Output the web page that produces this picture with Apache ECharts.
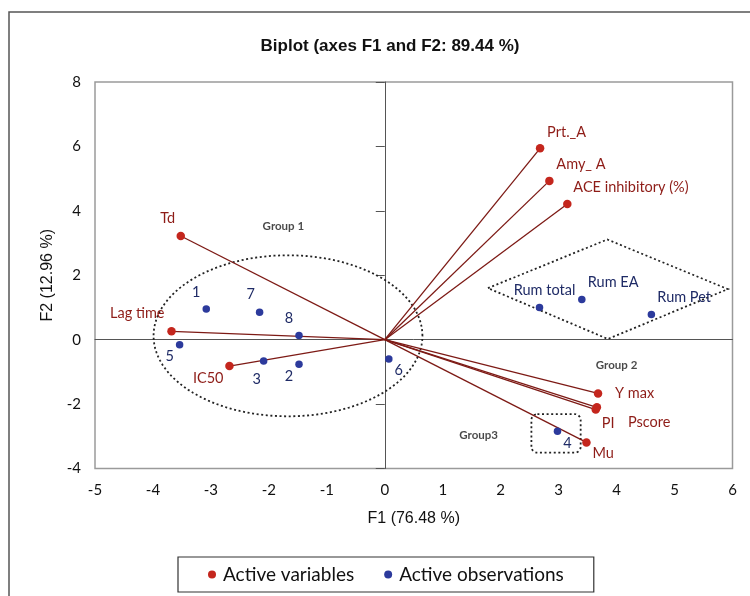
<!DOCTYPE html>
<html><head><meta charset="utf-8">
<script src="https://cdn.jsdelivr.net/npm/echarts@6/dist/echarts.min.js"></script>
<style>html,body{margin:0;padding:0;background:#fff}#c{width:750px;height:596px}</style>
</head><body><div id="c"></div>
<script>
// ---- data ----
const variableNames = ['Prt._A', 'Amy_ A', 'ACE inhibitory (%)', 'Td', 'Lag time', 'IC50', 'Y max', 'PI', 'Pscore', 'Mu'];
const variableF1 = [2.68, 2.84, 3.15, -3.52, -3.68, -2.68, 3.68, 3.64, 3.66, 3.48];
const variableF2 = [5.94, 4.93, 4.21, 3.22, 0.26, -0.82, -1.67, -2.17, -2.10, -3.19];

const observationNames = ['1', '2', '3', '4', '5', '6', '7', '8', 'Rum total', 'Rum EA', 'Rum Pet'];
const observationF1 = [-3.08, -1.48, -2.09, 2.98, -3.54, 0.07, -2.16, -1.48, 2.67, 3.40, 4.60];
const observationF2 = [0.95, -0.76, -0.66, -2.84, -0.16, -0.60, 0.85, 0.13, 1.00, 1.25, 0.78];

const xTickValues = [-5, -4, -3, -2, -1, 0, 1, 2, 3, 4, 5, 6];
const yTickValues = [-4, -2, 0, 2, 4, 6, 8];

const groupNames = ['Group 1', 'Group 2', 'Group3'];
const groupLabelF1 = [-1.75, 4.0, 1.62];
const groupLabelF2 = [3.51, -0.80, -2.96];

// group outlines (in axis units)
const group1Ellipse = [-1.67, 0.12, 2.32, 2.5];       // centre F1, centre F2, radius F1, radius F2
const group2DiamondF1 = [1.78, 3.84, 5.92, 3.85];
const group2DiamondF2 = [1.60, 3.11, 1.57, 0.02];
const group3BoxF1 = [2.53, 3.38];
const group3BoxF2 = [-2.31, -3.51];

// ---- label placement (style) ----
const varLabelPos = {
  'Prt._A': ['left', 7, -16], 'Amy_ A': ['left', 7, -17], 'ACE inhibitory (%)': ['left', 6, -17],
  'Td': ['center', -13, -18], 'Lag time': ['right', -7, -18], 'IC50': ['right', -6, 12],
  'Y max': ['left', 17, 0], 'PI': ['left', 6, 14], 'Pscore': ['left', 31, 15], 'Mu': ['left', 6, 11]
};
const obsLabelPos = {
  '1': ['center', -10, -17], '2': ['center', -10, 12], '3': ['center', -7, 18], '4': ['center', 10, 12],
  '5': ['center', -10, 12], '6': ['center', 10, 11], '7': ['center', -9, -18], '8': ['center', -10, -17],
  'Rum total': ['center', 5, -17], 'Rum EA': ['left', 6, -17], 'Rum Pet': ['left', 6, -17]
};

const RED = '#c4261d', BLUE = '#2c3a9c', LINE = '#7d1a15';
const VARTXT = '#8e1c17', OBSTXT = '#1f2b66';
const LABELFONT = 'Lato, "Open Sans", sans-serif';

function pointLabel(pos, color) {
  return {
    show: true, position: 'inside', formatter: '{b}', align: pos[0], verticalAlign: 'middle',
    offset: [pos[1], pos[2]], color: color, fontSize: 14.5, fontFamily: LABELFONT
  };
}

const varData = variableNames.map((n, i) => ({
  name: n, value: [variableF1[i], variableF2[i]], label: pointLabel(varLabelPos[n], VARTXT)
}));
const obsData = observationNames.map((n, i) => ({
  name: n, value: [observationF1[i], observationF2[i]], label: pointLabel(obsLabelPos[n], OBSTXT)
}));
const vectorData = variableNames.map((n, i) => ({ coords: [[0, 0], [variableF1[i], variableF2[i]]] }));
const groupData = groupNames.map((n, i) => ({ name: n, value: [groupLabelF1[i], groupLabelF2[i]] }));

const dotted = { stroke: '#222', lineWidth: 1.8, lineDash: [2, 2.6], fill: null };

function renderGroups(params, api) {
  const pts = [];
  for (let k = 0; k < 120; k++) {
    const t = k / 120 * Math.PI * 2;
    pts.push(api.coord([group1Ellipse[0] + group1Ellipse[2] * Math.cos(t), group1Ellipse[1] + group1Ellipse[3] * Math.sin(t)]));
  }
  const dia = group2DiamondF1.map((x, i) => api.coord([x, group2DiamondF2[i]]));
  const b0 = api.coord([group3BoxF1[0], group3BoxF2[0]]);
  const b1 = api.coord([group3BoxF1[1], group3BoxF2[1]]);
  return {
    type: 'group',
    children: [
      { type: 'polygon', shape: { points: pts }, style: dotted },
      { type: 'polygon', shape: { points: dia }, style: dotted },
      { type: 'rect', shape: { x: b0[0], y: b0[1], width: b1[0] - b0[0], height: b1[1] - b0[1], r: 6 }, style: dotted }
    ]
  };
}

const chart = echarts.init(document.getElementById('c'), null, { renderer: 'canvas' });
chart.setOption({
  animation: false,
  backgroundColor: '#fff',
  title: {
    text: 'Biplot (axes F1 and F2: 89.44 %)',
    left: 385, top: 33, textAlign: 'center',
    textStyle: { fontFamily: '"Liberation Sans", Arial, sans-serif', fontWeight: 'bold', fontSize: 17, color: '#111' }
  },
  graphic: [
    { type: 'rect', shape: { x: 9, y: 12, width: 800, height: 700 }, style: { fill: null, stroke: '#555', lineWidth: 1.5 }, silent: true }
  ],
  legend: {
    data: [
      { name: 'Active variables', icon: 'circle' },
      { name: 'Active observations', icon: 'circle' }
    ],
    left: 178, top: 557,
    itemWidth: 8, itemHeight: 8, itemGap: 30,
    padding: [8, 30, 8, 30],
    borderColor: '#333', borderWidth: 1.2,
    textStyle: { fontFamily: LABELFONT, fontSize: 19, color: '#111', padding: [0, 0, 0, 2] }
  },
  grid: {
    left: 95, top: 82, right: 17.5, bottom: 127.5,
    show: true, borderColor: '#9a9a9a', borderWidth: 1.5, containLabel: false
  },
  xAxis: [
    {
      type: 'value', min: xTickValues[0], max: xTickValues[xTickValues.length - 1], interval: 1,
      axisLine: { show: false, onZero: false }, axisTick: { show: false }, splitLine: { show: false },
      axisLabel: { margin: 14, fontFamily: LABELFONT, fontSize: 15, color: '#111' },
      name: 'F1 (76.48 %)', nameLocation: 'middle', nameGap: 42,
      nameTextStyle: { fontFamily: '"Liberation Sans", Arial, sans-serif', fontSize: 16, color: '#111' }
    },
    {
      type: 'value', min: xTickValues[0], max: xTickValues[xTickValues.length - 1], interval: 1,
      position: 'bottom',
      axisLine: { show: true, onZero: true, lineStyle: { color: '#555', width: 1 } },
      axisTick: { show: false }, axisLabel: { show: false }, splitLine: { show: false }
    }
  ],
  yAxis: [
    {
      type: 'value', min: yTickValues[0], max: yTickValues[yTickValues.length - 1], interval: 2,
      axisLine: { show: false, onZero: false }, axisTick: { show: false }, splitLine: { show: false },
      axisLabel: { margin: 14, fontFamily: LABELFONT, fontSize: 15, color: '#111' },
      name: 'F2 (12.96 %)', nameLocation: 'middle', nameGap: 37, nameRotate: 90,
      nameTextStyle: { fontFamily: '"Liberation Sans", Arial, sans-serif', fontSize: 16, color: '#111' }
    },
    {
      type: 'value', min: yTickValues[0], max: yTickValues[yTickValues.length - 1], interval: 2,
      position: 'left',
      axisLine: { show: true, onZero: true, onZeroAxisIndex: 0, lineStyle: { color: '#555', width: 1 } },
      axisTick: { show: true, length: 9, lineStyle: { color: '#555', width: 1 } },
      axisLabel: { show: false }, splitLine: { show: false }
    }
  ],
  series: [
    {
      type: 'custom', name: 'groups', coordinateSystem: 'cartesian2d', xAxisIndex: 0, yAxisIndex: 0,
      data: [[0, 0]], renderItem: renderGroups, silent: true, z: 1
    },
    {
      type: 'lines', name: 'vectors', coordinateSystem: 'cartesian2d', xAxisIndex: 0, yAxisIndex: 0,
      data: vectorData, lineStyle: { color: LINE, width: 1.3, opacity: 1 }, silent: true, z: 2
    },
    {
      type: 'scatter', name: 'Active observations', xAxisIndex: 0, yAxisIndex: 0,
      data: obsData, symbol: 'circle', symbolSize: 7.5, itemStyle: { color: BLUE, opacity: 1 }, z: 3
    },
    {
      type: 'scatter', name: 'Active variables', xAxisIndex: 0, yAxisIndex: 0,
      data: varData, symbol: 'circle', symbolSize: 8.5, itemStyle: { color: RED, opacity: 1 }, z: 4
    },
    {
      type: 'scatter', name: 'groupLabels', xAxisIndex: 0, yAxisIndex: 0,
      data: groupData, symbolSize: 0, silent: true, z: 5,
      label: {
        show: true, position: 'inside', formatter: '{b}', color: '#1a1a1a',
        fontFamily: LABELFONT, fontWeight: 'bold', fontSize: 11.5
      }
    }
  ]
});
</script>
</body></html>
